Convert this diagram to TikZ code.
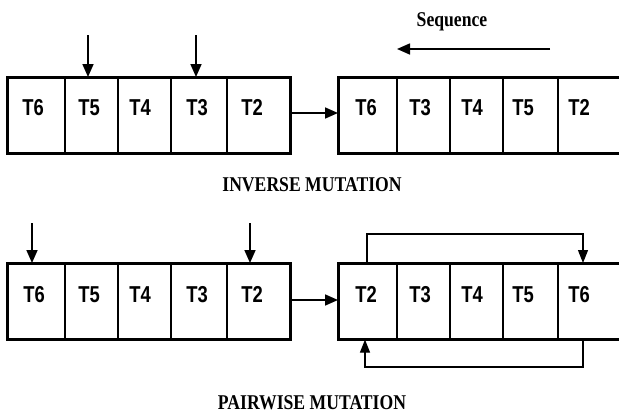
\documentclass[tikz,border=0pt]{standalone}
\usepackage{fontspec}
\newfontfamily\cellfont{Liberation Sans}[FakeStretch=0.8]
\newfontfamily\capfont{Liberation Serif}[FakeStretch=0.84]
\usetikzlibrary{arrows.meta}
\begin{document}
\begin{tikzpicture}[x=1pt,y=-1pt,
  cell/.style={draw, line width=1.6pt, minimum height=75pt, inner sep=0pt, anchor=north west},
  frame/.style={draw, line width=2.4pt},
  lbl/.style={inner sep=0pt, font=\cellfont\bfseries\fontsize{23}{26}\selectfont},
  captext/.style={inner sep=0pt, font=\capfont\bfseries\fontsize{21}{24}\selectfont},
  arr/.style={line width=1.6pt, -{Triangle[length=13pt,width=11pt]}},
  thinarr/.style={line width=1.1pt, -{Triangle[length=13pt,width=10pt]}}]
\clip (0,0) rectangle (619,415);
\fill[white] (0,0) rectangle (619,415);
% ---------- top left ----------
\node[cell, minimum width=57pt] (a1) at (7,77) {};
\node[cell, minimum width=53pt] (a2) at (64,77) {};
\node[cell, minimum width=53pt] (a3) at (117,77) {};
\node[cell, minimum width=56pt] (a4) at (170,77) {};
\node[cell, minimum width=63pt] (a5) at (226,77) {};
\draw[frame] (a1.north west) rectangle (a5.south east);
\node[lbl] (ta1) at (33,107.5) {T6};
\node[lbl] (ta2) at (89,107.5) {T5};
\node[lbl] (ta3) at (140,107.5) {T4};
\node[lbl] (ta4) at (197,107.5) {T3};
\node[lbl] (ta5) at (252,107.5) {T2};
\coordinate (sa2) at (88,35);
\coordinate (sa4) at (196,35);
\draw[arr] (sa2) -- (sa2 |- a2.north);
\draw[arr] (sa4) -- (sa4 |- a4.north);
% ---------- top right ----------
\node[cell, minimum width=58pt] (b1) at (338,77) {};
\node[cell, minimum width=53pt] (b2) at (396,77) {};
\node[cell, minimum width=53pt] (b3) at (449,77) {};
\node[cell, minimum width=55pt] (b4) at (502,77) {};
\node[cell, minimum width=75pt] (b5) at (557,77) {};
\draw[frame] (b1.north west) rectangle (b5.south east);
\node[lbl] (tb1) at (366,107.5) {T6};
\node[lbl] (tb2) at (420,107.5) {T3};
\node[lbl] (tb3) at (472,107.5) {T4};
\node[lbl] (tb4) at (523,107.5) {T5};
\node[lbl] (tb5) at (579,107.5) {T2};
\draw[arr] (a5.east |- 0,113) -- (b1.west |- 0,113);
\node[captext] (seq) at (452,22) {Sequence};
\coordinate (sq1) at (550,49);
\coordinate (sq2) at (397,49);
\draw[arr] (sq1) -- (sq2);
\node[captext] (inv) at (312,185) {INVERSE MUTATION};
% ---------- bottom left ----------
\node[cell, minimum width=57pt] (c1) at (7,263) {};
\node[cell, minimum width=53pt] (c2) at (64,263) {};
\node[cell, minimum width=53pt] (c3) at (117,263) {};
\node[cell, minimum width=56pt] (c4) at (170,263) {};
\node[cell, minimum width=63pt] (c5) at (226,263) {};
\draw[frame] (c1.north west) rectangle (c5.south east);
\node[lbl] (tc1) at (34,294.5) {T6};
\node[lbl] (tc2) at (89,294.5) {T5};
\node[lbl] (tc3) at (140,294.5) {T4};
\node[lbl] (tc4) at (197,294.5) {T3};
\node[lbl] (tc5) at (252,294.5) {T2};
\coordinate (sc1) at (32,223);
\coordinate (sc5) at (250,223);
\draw[arr] (sc1) -- (sc1 |- c1.north);
\draw[arr] (sc5) -- (sc5 |- c5.north);
% ---------- bottom right ----------
\node[cell, minimum width=58pt] (d1) at (338,263) {};
\node[cell, minimum width=53pt] (d2) at (396,263) {};
\node[cell, minimum width=53pt] (d3) at (449,263) {};
\node[cell, minimum width=55pt] (d4) at (502,263) {};
\node[cell, minimum width=75pt] (d5) at (557,263) {};
\draw[frame] (d1.north west) rectangle (d5.south east);
\node[lbl] (td1) at (366,294.5) {T2};
\node[lbl] (td2) at (420,294.5) {T3};
\node[lbl] (td3) at (472,294.5) {T4};
\node[lbl] (td4) at (523,294.5) {T5};
\node[lbl] (td5) at (579,294.5) {T6};
\draw[arr] (c5.east |- 0,300) -- (d1.west |- 0,300);
\coordinate (up1) at (367,234);
\coordinate (up2) at (583,234);
\draw[thinarr] (up1 |- d1.north) -- (up1) -- (up2) -- (up2 |- d5.north);
\coordinate (lo1) at (583,367);
\coordinate (lo2) at (365,367);
\draw[thinarr] (lo1 |- d5.south) -- (lo1) -- (lo2) -- (lo2 |- d1.south);
\node[captext] (pair) at (312,403) {PAIRWISE MUTATION};
\end{tikzpicture}
\end{document}
